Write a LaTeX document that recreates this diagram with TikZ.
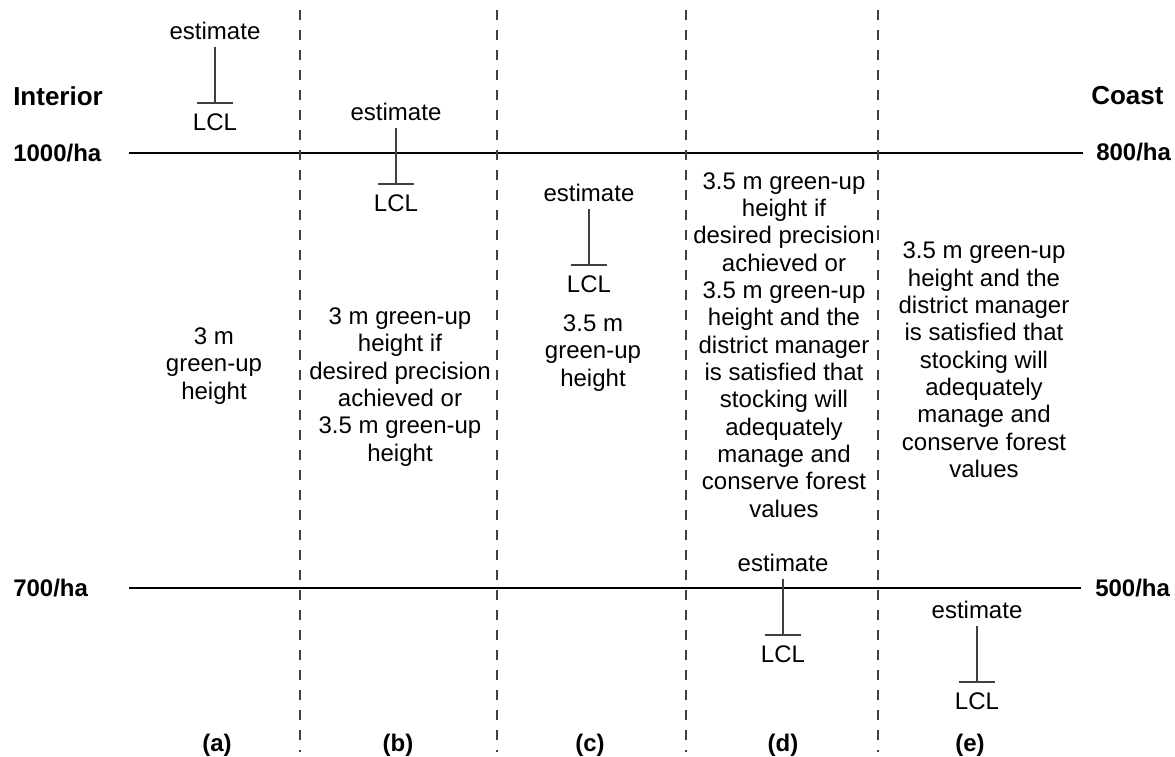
\documentclass[tikz,border=0pt]{standalone}
\usepackage{fontspec}
\setmainfont{Liberation Sans}
\usetikzlibrary{positioning}

\begin{document}
\begin{tikzpicture}[x=0.75pt,y=-0.75pt,node distance=42pt,
  level/.style={line width=2.2pt},
  divider/.style={line width=1.3pt,black!75,dash pattern=on 7.5pt off 7.5pt},
  side/.style={font=\fontsize{18}{20.5}\selectfont\bfseries,inner sep=0pt},
  region/.style={font=\fontsize{19.5}{22}\selectfont\bfseries,inner sep=0pt},
  est/.style={font=\fontsize{18}{20.5}\selectfont,inner sep=0pt,outer sep=5.5pt},
  lcl/.style={font=\fontsize{18}{20.5}\selectfont,inner sep=0pt,outer sep=7.8pt},
  stem/.style={line width=1pt,black!75},
  desc/.style={font=\fontsize{18}{20.5}\selectfont,align=center,inner sep=0pt}]
\useasboundingbox (0,0) rectangle (1175,757);

\node[region,anchor=west] (interior) at (13,96) {Interior};
\node[region,anchor=west] (coast) at (1091,96) {Coast};
\node[side,anchor=west] (high1000) at (13,153) {1000/ha};
\node[side,anchor=west] (low700) at (13,588) {700/ha};
\node[side,anchor=west] (high800) at (1096,152) {800/ha};
\node[side,anchor=west] (low500) at (1095,588) {500/ha};

\coordinate (topL) at (129,153);
\coordinate (topR) at (1083,153);
\coordinate (botL) at (129,588);
\coordinate (botR) at (1081,588);
\draw[level] (topL) -- (topR);
\draw[level] (botL) -- (botR);

\foreach \x in {300,497,686,878}
  \draw[divider] (\x,10) -- (\x,752);

\node[est] (estA) at (215,31) {estimate};
\node[est] (estB) at (396,112) {estimate};
\node[est] (estC) at (589,193) {estimate};
\node[est] (estD) at (783,563) {estimate};
\node[est] (estE) at (977,610) {estimate};
\node[lcl,below=of estA] (lclA) {LCL};
\node[lcl,below=of estB] (lclB) {LCL};
\node[lcl,below=of estC] (lclC) {LCL};
\node[lcl,below=of estD] (lclD) {LCL};
\node[lcl,below=of estE] (lclE) {LCL};
\foreach \c in {A,B,C,D,E} {
  \draw[stem] (est\c) -- (lcl\c);
  \draw[stem] ([xshift=-13.5pt]lcl\c.north) -- ([xshift=13.5pt]lcl\c.north);
}

\node[desc] (txtA) at (214,366) {3 m\\green-up\\height};
\node[desc] (txtB) at (400,387) {3 m green-up\\height if\\desired precision\\achieved or\\3.5 m green-up\\height};
\node[desc] (txtC) at (593,353) {3.5 m\\green-up\\height};
\node[desc] (txtD) at (784,345) {3.5 m green-up\\height if\\desired precision\\achieved or\\3.5 m green-up\\height and the\\district manager\\is satisfied that\\stocking will\\adequately\\manage and\\conserve forest\\values};
\node[desc] (txtE) at (984,360) {3.5 m green-up\\height and the\\district manager\\is satisfied that\\stocking will\\adequately\\manage and\\conserve forest\\values};

\node[side] (capA) at (217,745) {(a)};
\node[side] (capB) at (398,745) {(b)};
\node[side] (capC) at (590,745) {(c)};
\node[side] (capD) at (783,745) {(d)};
\node[side] (capE) at (970,745) {(e)};
\end{tikzpicture}
\end{document}
